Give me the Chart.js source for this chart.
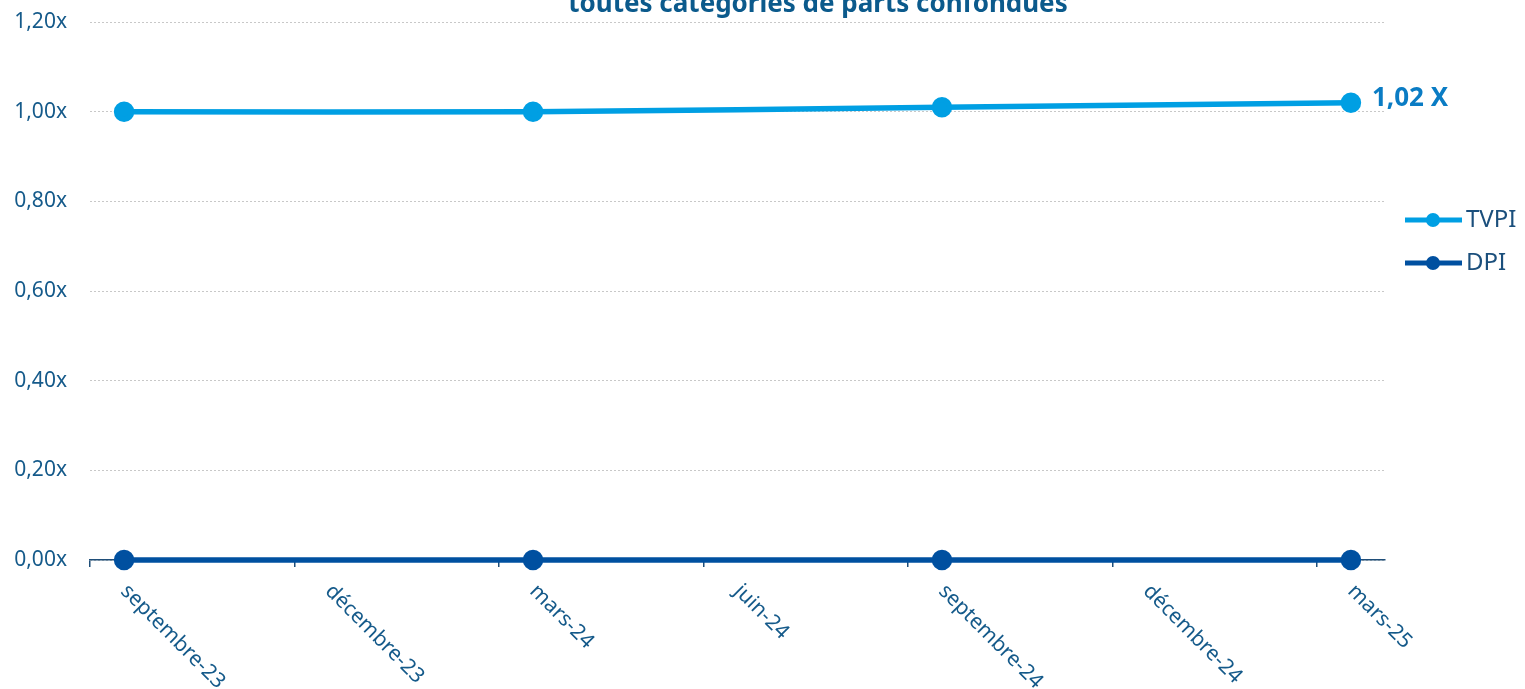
<!DOCTYPE html>
<html>
<head>
<meta charset="utf-8">
<script src="https://cdn.jsdelivr.net/npm/chart.js@4/dist/chart.umd.min.js"></script>
<style>
	html, body { margin: 0; padding: 0; background: #fff; }
	#wrap { width: 1525px; height: 689px; }
</style>
</head>
<body>
<div id="wrap"><canvas id="chart" width="1525" height="689"></canvas></div>
<script>
const months = [
	'septembre-23', 'octobre-23', 'novembre-23', 'décembre-23', 'janvier-24', 'février-24',
	'mars-24', 'avril-24', 'mai-24', 'juin-24', 'juillet-24', 'août-24',
	'septembre-24', 'octobre-24', 'novembre-24', 'décembre-24', 'janvier-25', 'février-25', 'mars-25'
];
const dates = ['septembre-23', 'mars-24', 'septembre-24', 'mars-25'];
const tvpi = [1.00, 1.00, 1.01, 1.02];
const dpi = [0, 0, 0, 0];
const title = 'toutes catégories de parts confondues';
const lastLabel = '1,02 X';

const font = '"Noto Sans", sans-serif';
const textColor = '#155a8a';
const lightBlue = '#009fe3';
const darkBlue = '#0050a0';

const toPoints = values => values.map((v, i) => ({ x: dates[i], y: v }));

const extras = {
	id: 'extras',
	afterDraw(chart) {
		const ctx = chart.ctx;
		const xs = chart.scales.x;
		ctx.save();

		// x labels, rotated down-right
		ctx.fillStyle = textColor;
		ctx.font = '21px ' + font;
		ctx.textAlign = 'left';
		ctx.textBaseline = 'middle';
		months.forEach((m, i) => {
			if (i % 3 !== 0) return;
			const x = xs.getPixelForValue(i);
			ctx.save();
			ctx.translate(x, xs.top + 28);
			ctx.rotate(Math.PI / 4);
			ctx.fillText(m, 0, 0);
			ctx.restore();
		});

		// title (first line is cut off in the picture)
		ctx.fillStyle = '#0b5a8c';
		ctx.font = 'bold 26px ' + font;
		ctx.textAlign = 'center';
		ctx.textBaseline = 'alphabetic';
		ctx.fillText(title, 818, 12);

		// label on the last TVPI point
		const meta = chart.getDatasetMeta(0);
		const last = meta.data[meta.data.length - 1];
		ctx.fillStyle = '#0a7cc4';
		ctx.font = 'bold 26px ' + font;
		ctx.textAlign = 'left';
		ctx.textBaseline = 'middle';
		ctx.fillText(lastLabel, last.x + 21, last.y - 4);

		// legend
		chart.data.datasets.forEach((ds, i) => {
			const y = 220 + i * 43;
			ctx.strokeStyle = ds.borderColor;
			ctx.lineWidth = 5;
			ctx.beginPath();
			ctx.moveTo(1405, y);
			ctx.lineTo(1462, y);
			ctx.stroke();
			ctx.fillStyle = ds.borderColor;
			ctx.beginPath();
			ctx.arc(1433, y, 7, 0, Math.PI * 2);
			ctx.fill();
			ctx.fillStyle = '#1b4f7c';
			ctx.font = '24px ' + font;
			ctx.textAlign = 'left';
			ctx.fillText(ds.label, 1466, y);
		});
		ctx.restore();
	}
};

new Chart(document.getElementById('chart'), {
	type: 'line',
	data: {
		labels: months,
		datasets: [
			{
				label: 'TVPI',
				data: toPoints(tvpi),
				borderColor: lightBlue,
				backgroundColor: lightBlue,
				borderWidth: 5.5,
				pointRadius: 7.5,
				pointHoverRadius: 7.5,
				tension: 0.35,
				clip: false
			},
			{
				label: 'DPI',
				data: toPoints(dpi),
				borderColor: darkBlue,
				backgroundColor: darkBlue,
				borderWidth: 5.5,
				pointRadius: 7.5,
				pointHoverRadius: 7.5,
				tension: 0,
				clip: false
			}
		]
	},
	options: {
		responsive: false,
		animation: false,
		events: [],
		layout: { padding: { left: 0, right: 140, top: 22, bottom: 0 } },
		plugins: {
			legend: { display: false },
			title: { display: false },
			tooltip: { enabled: false }
		},
		scales: {
			x: {
				type: 'category',
				offset: true,
				ticks: { display: false },
				grid: {
					offset: true,
					drawOnChartArea: false,
					drawTicks: true,
					tickLength: 7,
					lineWidth: 1.5,
					color: c => (c.index % 3 === 0 ? '#1f4e79' : 'rgba(0,0,0,0)')
				},
				border: { display: true, color: '#1f4e79', width: 1.5 },
				afterFit: s => { s.height = 129; }
			},
			y: {
				min: 0,
				max: 1.2,
				ticks: {
					stepSize: 0.2,
					padding: 23,
					color: textColor,
					font: { family: font, size: 21 },
					callback: v => v.toFixed(2).replace('.', ',') + 'x'
				},
				grid: {
					drawTicks: false,
					color: '#c8c8c8',
					lineWidth: 1
				},
				border: { display: false, dash: [2, 2] },
				afterFit: s => {
					s.width = 90;
					s.paddingTop = 0;
					s.paddingBottom = 0;
				}
			}
		}
	},
	plugins: [extras]
});
</script>
</body>
</html>
